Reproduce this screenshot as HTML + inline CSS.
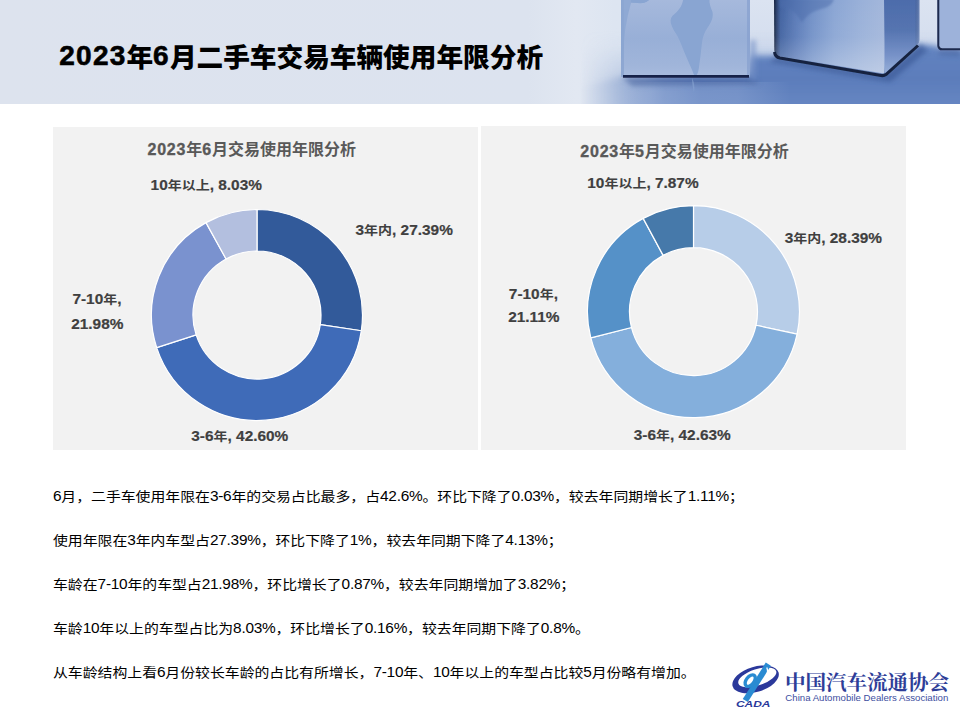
<!DOCTYPE html>
<html lang="zh-CN">
<head>
<meta charset="utf-8">
<title>2023年6月二手车交易车辆使用年限分析</title>
<style>
*{margin:0;padding:0;box-sizing:border-box}
html,body{width:960px;height:720px;overflow:hidden;background:#fff}
body{position:relative;font-family:"Liberation Sans","Noto Sans CJK SC",sans-serif;color:#000}
#hdr{position:absolute;left:0;top:0;width:960px;height:104px}
#title{position:absolute;font-size:26.67px;font-weight:900;white-space:nowrap;line-height:36px;color:#000}
#title .l{font-size:28px;letter-spacing:1.2px;position:relative;top:-2px;-webkit-text-stroke:0.6px #000}
.panel{position:absolute;background:#f2f2f2}
#p1{left:53px;top:127px;width:425px;height:323px}
#p2{left:481px;top:126px;width:425px;height:324px}
.ptitle{position:absolute;font-size:16px;font-weight:bold;color:#595959;white-space:nowrap;line-height:20px}
.ptitle .l{letter-spacing:0.8px;-webkit-text-stroke:0.35px #595959}
.lbl{position:absolute;font-size:14px;font-weight:bold;color:#404040;white-space:nowrap;line-height:16px}
.lbl .l{font-size:15.4px;letter-spacing:0;-webkit-text-stroke:0.2px #404040}
.lbl .c{display:inline-block;transform:translateY(1px) scaleY(0.86);transform-origin:50% 50%}
#charts{position:absolute;left:0;top:0}
.txt{position:absolute;left:53px;font-size:14.86px;color:#000;white-space:nowrap;line-height:18px}
.txt .l{font-size:15.4px;letter-spacing:-0.25px}
.txt .c{display:inline-block;transform:translateY(0.5px) scaleY(0.87);transform-origin:50% 50%}
</style>
</head>
<body>
<svg id="hdr" width="960" height="104" viewBox="0 0 960 104">
<defs>
<linearGradient id="hbg" x1="0" y1="0" x2="960" y2="0" gradientUnits="userSpaceOnUse">
<stop offset="0" stop-color="#dde3ee"/>
<stop offset="0.55" stop-color="#dce3ef"/>
<stop offset="0.6" stop-color="#e2e8f2"/>
<stop offset="0.64" stop-color="#dde5f1"/>
<stop offset="0.78" stop-color="#dae3f1"/>
<stop offset="1" stop-color="#d8e1f0"/>
</linearGradient>
<linearGradient id="flv" x1="0" y1="30" x2="0" y2="104" gradientUnits="userSpaceOnUse">
<stop offset="0" stop-color="#8ba7d6" stop-opacity="0"/>
<stop offset="0.2" stop-color="#8ba7d6" stop-opacity="0.15"/>
<stop offset="0.45" stop-color="#7a97cc" stop-opacity="0.75"/>
<stop offset="0.65" stop-color="#5f80be" stop-opacity="1"/>
<stop offset="0.8" stop-color="#6080be"/>
<stop offset="1" stop-color="#6c8bc5"/>
</linearGradient>
<linearGradient id="flh" x1="580" y1="0" x2="700" y2="0" gradientUnits="userSpaceOnUse">
<stop offset="0" stop-color="#fff" stop-opacity="0"/>
<stop offset="0.35" stop-color="#fff" stop-opacity="0.45"/>
<stop offset="0.7" stop-color="#fff" stop-opacity="0.85"/>
<stop offset="1" stop-color="#fff" stop-opacity="1"/>
</linearGradient>
<mask id="flm"><rect x="0" y="0" width="960" height="104" fill="url(#flh)"/></mask>
<linearGradient id="c1f" x1="0" y1="0" x2="0" y2="77" gradientUnits="userSpaceOnUse">
<stop offset="0" stop-color="#a6b9dc"/>
<stop offset="0.5" stop-color="#98afd7"/>
<stop offset="0.85" stop-color="#a0b5da"/>
<stop offset="1" stop-color="#a8bbde"/>
</linearGradient>
<linearGradient id="c2f" x1="774" y1="0" x2="884" y2="0" gradientUnits="userSpaceOnUse">
<stop offset="0" stop-color="#15233f"/>
<stop offset="0.025" stop-color="#2c426f"/>
<stop offset="0.06" stop-color="#4263a1"/>
<stop offset="0.2" stop-color="#5b7bb8"/>
<stop offset="0.35" stop-color="#7392c8"/>
<stop offset="0.55" stop-color="#8ba6d4"/>
<stop offset="0.8" stop-color="#9ab1d9"/>
<stop offset="1" stop-color="#a3b7db"/>
</linearGradient>
<linearGradient id="c2s" x1="0" y1="0" x2="0" y2="74" gradientUnits="userSpaceOnUse">
<stop offset="0" stop-color="#4d6cab"/>
<stop offset="0.4" stop-color="#5574b0"/>
<stop offset="0.75" stop-color="#7792c8"/>
<stop offset="1" stop-color="#98b0d9"/>
</linearGradient>
<linearGradient id="c2v" x1="0" y1="0" x2="0" y2="74" gradientUnits="userSpaceOnUse">
<stop offset="0" stop-color="#fff" stop-opacity="0"/>
<stop offset="0.5" stop-color="#fff" stop-opacity="0.05"/>
<stop offset="1" stop-color="#fff" stop-opacity="0.3"/>
</linearGradient>
<linearGradient id="c2e" x1="884" y1="0" x2="920" y2="0" gradientUnits="userSpaceOnUse">
<stop offset="0" stop-color="#000" stop-opacity="0"/>
<stop offset="0.85" stop-color="#000" stop-opacity="0"/>
<stop offset="1" stop-color="#fff" stop-opacity="0.25"/>
</linearGradient>
<linearGradient id="gap" x1="0" y1="0" x2="0" y2="80" gradientUnits="userSpaceOnUse">
<stop offset="0" stop-color="#dbe3f1"/>
<stop offset="0.45" stop-color="#d6dfef"/>
<stop offset="1" stop-color="#d0dbee"/>
</linearGradient>
<linearGradient id="refl" x1="615" y1="0" x2="790" y2="0" gradientUnits="userSpaceOnUse">
<stop offset="0" stop-color="#a5b9de" stop-opacity="0"/>
<stop offset="0.2" stop-color="#a5b9de" stop-opacity="0.35"/>
<stop offset="0.7" stop-color="#a5b9de" stop-opacity="0.3"/>
<stop offset="1" stop-color="#a5b9de" stop-opacity="0"/>
</linearGradient>
<linearGradient id="flr" x1="0" y1="40" x2="0" y2="104" gradientUnits="userSpaceOnUse">
<stop offset="0" stop-color="#6a89c3" stop-opacity="0"/>
<stop offset="0.12" stop-color="#6887c2" stop-opacity="0.7"/>
<stop offset="0.3" stop-color="#5f80be" stop-opacity="1"/>
<stop offset="0.7" stop-color="#5c7dbb" stop-opacity="1"/>
<stop offset="1" stop-color="#6585c1" stop-opacity="1"/>
</linearGradient>
<linearGradient id="flc" x1="0" y1="44" x2="0" y2="104" gradientUnits="userSpaceOnUse">
<stop offset="0" stop-color="#6283c0"/>
<stop offset="0.6" stop-color="#5c7dbb"/>
<stop offset="1" stop-color="#6686c2"/>
</linearGradient>
<filter id="b4" filterUnits="userSpaceOnUse" x="500" y="-10" width="470" height="124"><feGaussianBlur stdDeviation="3"/></filter>
<filter id="b1" filterUnits="userSpaceOnUse" x="500" y="-10" width="470" height="124"><feGaussianBlur stdDeviation="0.6"/></filter>
<filter id="b2" filterUnits="userSpaceOnUse" x="500" y="-10" width="470" height="124"><feGaussianBlur stdDeviation="2.5"/></filter>
<filter id="b3" filterUnits="userSpaceOnUse" x="500" y="-10" width="470" height="124"><feGaussianBlur stdDeviation="1.2"/></filter>
</defs>
<rect width="960" height="104" fill="url(#hbg)"/>
<!-- gaps (backlight) -->
<rect x="745" y="0" width="35" height="80" fill="url(#gap)"/>
<rect x="915" y="0" width="28" height="60" fill="url(#gap)"/>
<!-- floor -->
<g mask="url(#flm)">
<rect x="500" y="30" width="460" height="74" fill="url(#flv)" opacity="0.55"/>
<path filter="url(#b4)" fill="url(#flc)" d="M570,112 L570,88 L600,82 L621,77 L750,77 L752,56 L774,56 L884,74 L918,44 L938,46 L938,49 L970,49 L970,112 Z"/>
</g>
<!-- reflection under cube 1 -->
<rect x="615" y="82" width="175" height="22" fill="url(#refl)"/>
<!-- shadows on floor -->
<path d="M622,77 L750,77 L760,84 L632,86 Z" fill="#3d5a96" opacity="0.5" filter="url(#b2)"/>
<path d="M750,40 L756,40 L756,80 L750,80 Z" fill="#6f8cc4" opacity="0.6" filter="url(#b2)"/>
<path d="M776,56 L883,75 L920,44 L928,50 L890,82 L770,62 Z" fill="#31508d" opacity="0.55" filter="url(#b2)"/>
<path d="M937,49 L960,49 L960,56 L940,55 Z" fill="#3d5a96" opacity="0.5" filter="url(#b2)"/>
<!-- cube 1 -->
<g filter="url(#b1)">
<path d="M621,-2 L750,-2 L750,74.5 Q750,77 747.5,77 L624,77 Q621,77 621,74 Z" fill="url(#c1f)"/>
<path d="M621,-2 L624,-2 L624,77 L621,77 Z" fill="#8aa4d0" opacity="0.8"/>
<path d="M747,-2 L750,-2 L750,77 L747,77 Z" fill="#86a0ce" opacity="0.7"/>
<path d="M622.3,0 L648.5,0 L644,2.9 L631,2.9 L628,14.6 L625.2,29.2 L623.7,43.8 L622.3,58.3 L621,58 L621,0 Z" fill="#8ba6d2" opacity="0.8"/>
</g>
<g filter="url(#b1)" fill="#89a5d2">
<path d="M683.5,-1 L709.5,-1 C709,4 711,8 712.5,12 C713.5,17 711.5,22 708,27 C704.5,32 702.5,37 701.8,44 C701,52 700,60 699,67 C698.5,71 697.8,74 696,76 C694.5,76.5 693.5,74 692.5,71 C690.5,66 688,61 685.5,55 C683,49 680.5,42 677.5,36 C675,32 672,28 670.8,23 C670,19 671.5,16 674.5,14 C677.5,11.5 680.5,8 682,4 Z"/>
<path d="M631,-1 L650,-1 C648,1.5 645,3 641,3.2 C637,3.4 634,2.5 631,2 Z"/>
<path d="M692,78 C694,82 695,86 694,92 C693,88 692,84 692,78 Z" opacity="0.6"/>
</g>
<path filter="url(#b1)" d="M623,76.4 L749,76.4" stroke="#17244a" stroke-width="2.6"/>
<!-- cube 2 -->
<g filter="url(#b1)">
<path d="M774,-2 L884,-2 L884,73.5 L779,56 Q774.5,55 774.3,50 Z" fill="url(#c2f)"/>
<path d="M884,-2 L919.5,-2 L919.5,40 Q919.5,43 917,44.5 L884.5,73.5 Z" fill="url(#c2s)"/>
<path d="M884,-2 L919.5,-2 L919.5,40 Q919.5,43 917,44.5 L884.5,73.5 Z" fill="url(#c2e)"/>
<path d="M774,-2 L884,-2 L884,73.5 L779,56 Q774.5,55 774.3,50 Z" fill="url(#c2v)"/>
</g>
<path filter="url(#b3)" d="M779,-1 L834,-1 C833,3 830,6 826,7.5 C821,9 816,10 812,12.5 C808,15 805,18 801.5,22.5 C799.5,19 797.5,15 794,12 C790,9 785,8 780,7 Z" fill="#4d6dab" opacity="0.5"/>
<path filter="url(#b1)" d="M774.5,52 Q775,57 780,58 L881,75.5 Q884,76 886,74.5 L918,45.5" stroke="#15233f" stroke-width="3" fill="none"/>
<!-- cube 3 -->
<g filter="url(#b1)">
<path d="M937.5,-2 L962,-2 L962,49 L941,49 Q937.5,49 937.5,45 Z" fill="#9db2da"/>
<path d="M938.3,-2 L938.3,46 Q938.8,49.3 942,49.3 L962,49.3" stroke="#1c2a4e" stroke-width="2" fill="none"/>
</g>
</svg>

<div id="title" style="left:59.35px;top:40.0px"><span class="l">2023</span>年<span class="l">6</span>月二手车交易车辆使用年限分析</div>
<div class="panel" id="p1"></div>
<div class="panel" id="p2"></div>
<svg id="charts" width="960" height="720" viewBox="0 0 960 720">
<path d="M257.00,209.50A105.5,105.5 0 0 1 361.31,330.78L320.28,324.57A64,64 0 0 0 257.00,251.00Z" fill="#325A9A" stroke="#fff" stroke-width="1.2" stroke-linejoin="round"/>
<path d="M361.31,330.78A105.5,105.5 0 0 1 156.68,347.66L196.14,334.82A64,64 0 0 0 320.28,324.57Z" fill="#3F6BB8" stroke="#fff" stroke-width="1.2" stroke-linejoin="round"/>
<path d="M156.68,347.66A105.5,105.5 0 0 1 206.00,222.65L226.06,258.97A64,64 0 0 0 196.14,334.82Z" fill="#7A92CF" stroke="#fff" stroke-width="1.2" stroke-linejoin="round"/>
<path d="M206.00,222.65A105.5,105.5 0 0 1 257.00,209.50L257.00,251.00A64,64 0 0 0 226.06,258.97Z" fill="#B3BFDF" stroke="#fff" stroke-width="1.2" stroke-linejoin="round"/>
<path d="M693.50,205.70A106,106 0 0 1 797.10,334.11L756.05,325.23A64,64 0 0 0 693.50,247.70Z" fill="#B7CDE8" stroke="#fff" stroke-width="1.2" stroke-linejoin="round"/>
<path d="M797.10,334.11A106,106 0 0 1 590.80,337.93L631.49,327.54A64,64 0 0 0 756.05,325.23Z" fill="#84AFDC" stroke="#fff" stroke-width="1.2" stroke-linejoin="round"/>
<path d="M590.80,337.93A106,106 0 0 1 643.19,218.40L663.13,255.37A64,64 0 0 0 631.49,327.54Z" fill="#5591C8" stroke="#fff" stroke-width="1.2" stroke-linejoin="round"/>
<path d="M643.19,218.40A106,106 0 0 1 693.50,205.70L693.50,247.70A64,64 0 0 0 663.13,255.37Z" fill="#4679AA" stroke="#fff" stroke-width="1.2" stroke-linejoin="round"/>
</svg>
<div class="ptitle" id="t1" style="left:147.45px;top:140.1px"><span class="l">2023</span>年<span class="l">6</span>月交易使用年限分析</div>
<div class="ptitle" id="t2" style="left:580.25px;top:142.2px"><span class="l">2023</span>年<span class="l">5</span>月交易使用年限分析</div>
<div class="lbl" id="l1a" style="left:355.5px;top:222.4px"><span class="l">3</span><span class="c">年内</span><span class="l">, 27.39%</span></div>
<div class="lbl" id="l1b" style="left:191.3px;top:428.0px"><span class="l">3-6</span><span class="c">年</span><span class="l">, 42.60%</span></div>
<div class="lbl" id="l1c" style="left:72.45px;top:291.4px"><span class="l">7-10</span><span class="c">年</span><span class="l">,</span></div>
<div class="lbl" id="l1d" style="left:71.2px;top:315.6px"><span class="l">21.98%</span></div>
<div class="lbl" id="l1e" style="left:150.6px;top:177.2px"><span class="l">10</span><span class="c">年以上</span><span class="l">, 8.03%</span></div>
<div class="lbl" id="l2a" style="left:784.7px;top:230.4px"><span class="l">3</span><span class="c">年内</span><span class="l">, 28.39%</span></div>
<div class="lbl" id="l2b" style="left:633.75px;top:426.6px"><span class="l">3-6</span><span class="c">年</span><span class="l">, 42.63%</span></div>
<div class="lbl" id="l2c" style="left:508.85px;top:285.8px"><span class="l">7-10</span><span class="c">年</span><span class="l">,</span></div>
<div class="lbl" id="l2d" style="left:508.2px;top:309.0px"><span class="l">21.11%</span></div>
<div class="lbl" id="l2e" style="left:587.3px;top:175.0px"><span class="l">10</span><span class="c">年以上</span><span class="l">, 7.87%</span></div>
<div class="txt" id="b0" style="top:487.3px"><span class="l">6</span><span class="c">月，二手车使用年限在</span><span class="l">3-6</span><span class="c">年的交易占比最多，占</span><span class="l">42.6%</span><span class="c">。环比下降了</span><span class="l">0.03%</span><span class="c">，较去年同期增长了</span><span class="l">1.11%</span><span class="c">；</span></div>
<div class="txt" id="b1" style="top:531.3px"><span class="c">使用年限在</span><span class="l">3</span><span class="c">年内车型占</span><span class="l">27.39%</span><span class="c">，环比下降了</span><span class="l">1%</span><span class="c">，较去年同期下降了</span><span class="l">4.13%</span><span class="c">；</span></div>
<div class="txt" id="b2" style="top:575.3px"><span class="c">车龄在</span><span class="l">7-10</span><span class="c">年的车型占</span><span class="l">21.98%</span><span class="c">，环比增长了</span><span class="l">0.87%</span><span class="c">，较去年同期增加了</span><span class="l">3.82%</span><span class="c">；</span></div>
<div class="txt" id="b3" style="top:619.3px"><span class="c">车龄</span><span class="l">10</span><span class="c">年以上的车型占比为</span><span class="l">8.03%</span><span class="c">，环比增长了</span><span class="l">0.16%</span><span class="c">，较去年同期下降了</span><span class="l">0.8%</span><span class="c">。</span></div>
<div class="txt" id="b4" style="top:663.3px"><span class="c">从车龄结构上看</span><span class="l">6</span><span class="c">月份较长车龄的占比有所增长，</span><span class="l">7-10</span><span class="c">年、</span><span class="l">10</span><span class="c">年以上的车型占比较</span><span class="l">5</span><span class="c">月份略有增加。</span></div>
<svg id="logo" style="position:absolute;left:720px;top:650px" width="240" height="70" viewBox="720 650 240 70">
<path fill-rule="evenodd" fill="#2b399b" d="M732.6,686.2 A23.6,12.4 -17 1 1 778.6,672.6 A23.6,12.4 -17 1 1 732.6,686.2 Z M738.4,683.4 A19.2,7.9 -18 1 0 776.2,671.2 A19.2,7.9 -18 1 0 738.4,683.4 Z"/>
<g fill="none" stroke="#2a8bd2">
<path d="M745.3,700.5 L768.3,664.2" stroke-width="6"/>
<ellipse cx="750.2" cy="680.6" rx="6.6" ry="3.9" transform="rotate(-52 750.2 680.6)" stroke-width="3.4"/>
</g>
<path d="M766.8,667.5 Q768.6,672 766.2,677.5" stroke="#fff" stroke-width="1.3" fill="none"/>
<text x="736" y="706.8" font-family="Liberation Sans, sans-serif" font-weight="bold" font-style="italic" font-size="9" fill="#2b399b" textLength="34.5" lengthAdjust="spacingAndGlyphs">CADA</text>
<text x="785" y="690" font-family="Noto Serif CJK SC, serif" font-weight="bold" font-size="20.6" fill="#2e3e98" textLength="164" lengthAdjust="spacing">中国汽车流通协会</text>
<text x="785.3" y="701.2" font-family="Liberation Sans, sans-serif" font-size="9.8" fill="#3d4ea0" textLength="163" lengthAdjust="spacingAndGlyphs">China Automobile Dealers Association</text>
</svg>
</body>
</html>
